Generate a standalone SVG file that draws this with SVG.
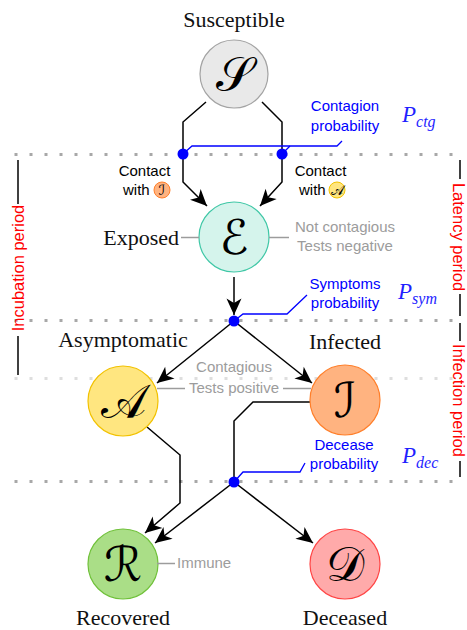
<svg xmlns="http://www.w3.org/2000/svg" width="467" height="630" viewBox="0 0 467 630">
<style>
.lbl{font-family:"Liberation Serif",serif;font-size:22px;fill:#111}
.sm{font-family:"Liberation Sans",Arial,sans-serif;font-size:15px}
.blue{fill:#0000ff}
.gray{fill:#9c9c9c}
.red{font-family:"Liberation Sans",Arial,sans-serif;font-size:16.5px;fill:#ff0000;text-anchor:middle}
.math{font-family:"DejaVu Serif","DejaVu Sans",serif;font-size:48px;text-anchor:middle;fill:#000}
.mathsm{font-family:"DejaVu Serif","DejaVu Sans",serif;font-size:14px;text-anchor:middle;fill:#000}
.P{font-family:"Liberation Serif",serif;font-style:italic;font-size:23px;fill:#1f1fff}
.conn{fill:none;stroke:#000;stroke-width:1.5;marker-end:url(#arr)}
.plain{fill:none;stroke:#000;stroke-width:1.5}
.bl{fill:none;stroke:#0000ff;stroke-width:1.3}
.gl{stroke:#9c9c9c;stroke-width:1.5}
.dot{stroke:#a8a8a8;stroke-width:3;stroke-dasharray:3 12}
.dotl{stroke:#dedede;stroke-width:3;stroke-dasharray:3 12}
.br{stroke:#000;stroke-width:1.5}
.node{stroke-width:1.2}
</style>
<defs>
<marker id="arr" markerUnits="userSpaceOnUse" viewBox="-17 -9 18 18" refX="0" refY="0" markerWidth="18" markerHeight="18" orient="auto">
<path d="M0,0 L-16.5,-7.5 L-12,0 L-16.5,7.5 Z" fill="#000"/>
</marker>
</defs>
<g id="grid">
<line class="dot" x1="14.5" y1="154.5" x2="463" y2="154.5"/>
<line class="dot" x1="14.5" y1="320.5" x2="463" y2="320.5"/>
<line class="dotl" x1="14.5" y1="378.5" x2="463" y2="378.5"/>
<line class="dot" x1="14.5" y1="481.5" x2="463" y2="481.5"/>
</g>
<g id="brackets">
<line class="br" x1="18" y1="160" x2="18" y2="204"/>
<line class="br" x1="18" y1="336" x2="18" y2="375"/>
<text class="red" transform="translate(23.5,268) rotate(-90)">Incubation period</text>
<line class="br" x1="460" y1="160" x2="460" y2="179"/>
<line class="br" x1="460" y1="294" x2="460" y2="316"/>
<text class="red" transform="translate(453,237) rotate(90)">Latency period</text>
<line class="br" x1="460" y1="323" x2="460" y2="341"/>
<line class="br" x1="460" y1="461" x2="460" y2="477"/>
<text class="red" transform="translate(453,400.5) rotate(90)">Infection period</text>
</g>
<g id="connectors">
<path class="conn" d="M206,102 L183,122 L183,182 L207,206"/>
<path class="conn" d="M262,102 L282,122 L282,182 L260,206"/>
<path class="conn" d="M234,277 L234,315"/>
<path class="conn" d="M234,321 L157,383"/>
<path class="conn" d="M234,321 L312,383"/>
<path class="conn" d="M147,427 L180,455 L180,503 L145,533"/>
<path class="plain" d="M310,402 L253,402 L234,421 L234,482"/>
<path class="conn" d="M234,482 L155,543"/>
<path class="conn" d="M234,482 L313,543"/>
</g>
<g id="probabilities">
<path class="bl" d="M183,154 L192,146 L337,146 L342,141"/>
<path class="bl" d="M282,154 L290,146"/>
<path class="bl" d="M234,321 L243,314 L287,314 L307,295"/>
<path class="bl" d="M234,482 L243,472 L300,472 L305,463"/>
<circle cx="183" cy="154" r="5.5" fill="#0000ff"/>
<circle cx="282" cy="154" r="5.5" fill="#0000ff"/>
<circle cx="234" cy="321" r="5.5" fill="#0000ff"/>
<circle cx="234" cy="482" r="5.5" fill="#0000ff"/>
<text class="sm blue" text-anchor="middle" x="345" y="111">Contagion</text>
<text class="sm blue" text-anchor="middle" x="345" y="131">probability</text>
<text class="P" x="402" y="122">P<tspan font-size="16" dy="5">ctg</tspan></text>
<text class="sm blue" text-anchor="middle" x="345" y="289">Symptoms</text>
<text class="sm blue" text-anchor="middle" x="345" y="308">probability</text>
<text class="P" x="398" y="299">P<tspan font-size="16" dy="5">sym</tspan></text>
<text class="sm blue" text-anchor="middle" x="344" y="450">Decease</text>
<text class="sm blue" text-anchor="middle" x="344" y="469">probability</text>
<text class="P" x="402" y="463">P<tspan font-size="16" dy="5">dec</tspan></text>
</g>
<g id="contact-labels">
<text class="sm" text-anchor="middle" x="144.5" y="176">Contact</text>
<text class="sm" x="123" y="195">with</text>
<circle cx="162" cy="190" r="8" fill="#ffb380" stroke="#ff7f2a" stroke-width="1"/>
<text class="mathsm" x="162" y="195">ℐ</text>
<text class="sm" text-anchor="middle" x="320.5" y="176">Contact</text>
<text class="sm" x="299" y="195">with</text>
<circle cx="337" cy="190" r="8" fill="#ffe680" stroke="#f2c200" stroke-width="1"/>
<text class="mathsm" x="337" y="195">𝒜</text>
</g>
<g id="S">
<circle class="node" cx="234" cy="74" r="34" fill="#e9e9e9" stroke="#a3a3a3"/>
<text class="math" x="234" y="91">𝒮</text>
<text class="lbl" text-anchor="middle" x="234" y="27">Susceptible</text>
</g>
<g id="E">
<circle class="node" cx="234" cy="237" r="35" fill="#d5f4ec" stroke="#3fc7a6"/>
<text class="math" x="234" y="254">ℰ</text>
<text class="lbl" text-anchor="end" x="179" y="245">Exposed</text>
<line class="gl" x1="181" y1="237.5" x2="199" y2="237.5"/>
<line class="gl" x1="269" y1="237.5" x2="289" y2="237.5"/>
<text class="sm gray" text-anchor="middle" x="345" y="232">Not contagious</text>
<text class="sm gray" text-anchor="middle" x="345" y="251">Tests negative</text>
</g>
<g id="A">
<circle class="node" cx="123" cy="401" r="35" fill="#ffe680" stroke="#f2c200"/>
<text class="math" x="123" y="418">𝒜</text>
<text class="lbl" text-anchor="middle" x="123" y="347">Asymptomatic</text>
</g>
<g id="I">
<circle class="node" cx="345" cy="400" r="35" fill="#ffb380" stroke="#ff7f2a"/>
<text class="math" x="345" y="417">ℐ</text>
<text class="lbl" text-anchor="middle" x="345" y="349">Infected</text>
</g>
<g id="contagious-label">
<line class="gl" x1="157" y1="388.5" x2="185" y2="388.5"/>
<line class="gl" x1="283" y1="388.5" x2="311" y2="388.5"/>
<text class="sm gray" text-anchor="middle" x="234" y="372">Contagious</text>
<text class="sm gray" text-anchor="middle" x="234" y="393">Tests positive</text>
</g>
<g id="R">
<circle class="node" cx="123" cy="564" r="35" fill="#aade87" stroke="#70c13a"/>
<text class="math" x="123" y="581">ℛ</text>
<text class="lbl" text-anchor="middle" x="123" y="625">Recovered</text>
<line class="gl" x1="157" y1="563.5" x2="175" y2="563.5"/>
<text class="sm gray" x="177" y="568">Immune</text>
</g>
<g id="D">
<circle class="node" cx="345" cy="564" r="35" fill="#ffaaaa" stroke="#ff4545"/>
<text class="math" x="345" y="581">𝒟</text>
<text class="lbl" text-anchor="middle" x="345" y="625">Deceased</text>
</g>
</svg>
